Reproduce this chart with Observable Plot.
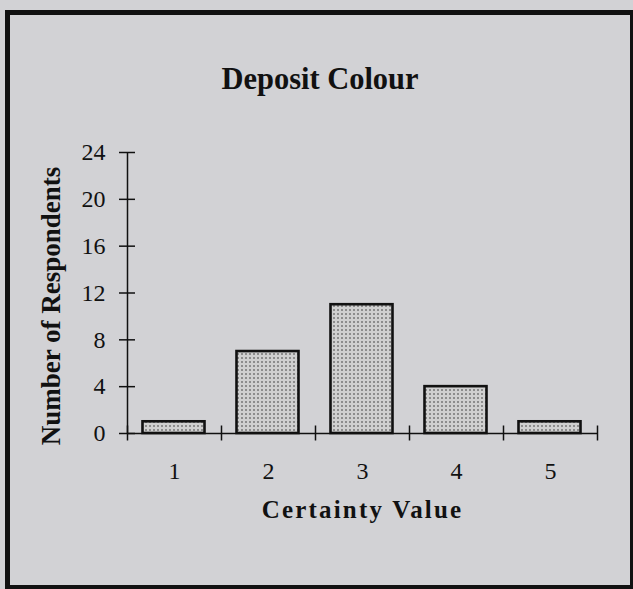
<!DOCTYPE html>
<html>
<head>
<meta charset="utf-8">
<script src="https://cdn.jsdelivr.net/npm/d3@7"></script>
<script src="https://cdn.jsdelivr.net/npm/@observablehq/plot@0.6"></script>
<style>
  html, body { margin: 0; padding: 0; background: #d2d2d5; }
  #wrap { position: relative; width: 633px; height: 589px; overflow: hidden; }
  #frame { position: absolute; left: 5px; top: 10px; width: 620px; height: 570px; border: 5px solid #111; }
  #chart { position: absolute; left: 0; top: 0; }
</style>
</head>
<body>
<div id="wrap"><div id="frame"></div><div id="chart"></div></div>
<script>
const title = "Deposit Colour";
const xLabel = "Certainty Value";
const yLabel = "Number of Respondents";
const categories = [1, 2, 3, 4, 5];
const respondents = [1, 7, 11, 4, 1];
const yTicks = [0, 4, 8, 12, 16, 20, 24];

const data = categories.map((c, i) => ({cat: c, count: respondents[i]}));
const boundaries = [categories[0] - 0.5, ...categories.map(c => c + 0.5)];
const serif = "'Liberation Serif', 'Times New Roman', serif";

const plot = Plot.plot({
  width: 633,
  height: 589,
  marginLeft: 127,
  marginRight: 36,
  marginTop: 152,
  marginBottom: 156,
  style: {background: "transparent", fontFamily: serif, color: "#111"},
  x: {domain: [0.5, 5.5], axis: null},
  y: {domain: [0, 24], axis: null},
  marks: [
    Plot.rectY(data, {
      x1: d => d.cat - 0.5, x2: d => d.cat + 0.5, y: "count",
      insetLeft: 15.5, insetRight: 16.5,
      fill: "url(#dots)", stroke: "#111", strokeWidth: 2.6
    }),
    Plot.ruleY([0], {stroke: "#111", strokeWidth: 1.5}),
    Plot.ruleX([0.5], {y1: 0, y2: 24, stroke: "#111", strokeWidth: 1.5}),
    Plot.axisY({ticks: yTicks, tickSize: 16, dx: 8, tickFormat: () => "", strokeWidth: 1.5, stroke: "#111", label: null}),
    Plot.axisY({ticks: yTicks, tickSize: 0, tickPadding: 22, fontSize: 24, fill: "#111", label: null}),
    Plot.axisX({ticks: boundaries, tickSize: 15, dy: -7.5, tickFormat: () => "", strokeWidth: 1.5, stroke: "#111", label: null}),
    Plot.axisX({ticks: categories, tickSize: 0, tickPadding: 28, tickFormat: "d", fontSize: 24, fill: "#111", label: null}),
    Plot.text([title], {frameAnchor: "top", dx: -42.5, dy: -86.5, fontSize: 32, fontWeight: "bold", fill: "#111"}),
    Plot.text([xLabel], {frameAnchor: "bottom", dy: 84, fontSize: 25, fontWeight: "bold", fill: "#111"}),
    Plot.text([yLabel], {frameAnchor: "left", textAnchor: "middle", dx: -76, dy: 13, rotate: -90, fontSize: 27, fontWeight: "bold", fill: "#111"})
  ]
});

// dotted fill pattern for the bars
const svg = d3.select(plot);
const defs = svg.insert("defs", ":first-child");
const pat = defs.append("pattern").attr("id", "dots").attr("patternUnits", "userSpaceOnUse")
  .attr("width", 4).attr("height", 4);
pat.append("rect").attr("width", 4).attr("height", 4).attr("fill", "#d0d0d0");
pat.append("rect").attr("x", 1).attr("y", 1).attr("width", 2).attr("height", 2).attr("fill", "#8d8d8d");

svg.selectAll("text").filter(function() { return this.textContent === xLabel; }).style("letter-spacing", "2.2px");
svg.selectAll("text").filter(function() { return this.textContent === title; })
  .attr("textLength", 197).attr("lengthAdjust", "spacingAndGlyphs");

document.getElementById("chart").appendChild(plot);
</script>
</body>
</html>
